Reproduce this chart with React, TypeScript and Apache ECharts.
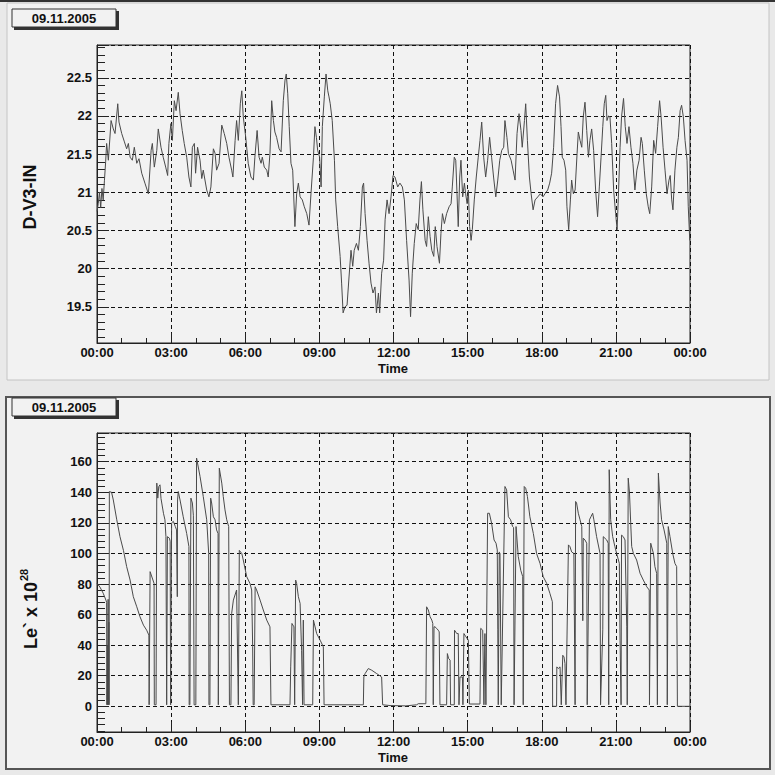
import React, { useEffect, useRef } from "react";
import * as echarts from "echarts";

const DATE_LABEL = "09.11.2005";
const TOP_Y_TITLE = "D-V3-IN";
const BOTTOM_Y_TITLE = "Le` x 10";
const BOTTOM_Y_EXP = "28";
const X_TITLE = "Time";

// D-V3-IN (temperature-like) series: hours since 00:00, value
const tempTime = [
  0.0, 0.05, 0.1, 0.15, 0.2, 0.25, 0.3, 0.35, 0.39, 0.46, 0.57, 0.66, 0.73, 0.84, 0.89, 1.0, 1.11, 1.2, 1.27, 1.34,
  1.43, 1.51, 1.61, 1.7, 1.81, 1.94, 2.08, 2.19, 2.24, 2.32, 2.42, 2.48, 2.59, 2.68, 2.78, 2.86, 2.91, 2.99, 3.05, 3.13,
  3.2, 3.29, 3.36, 3.45, 3.53, 3.63, 3.72, 3.8, 3.86, 3.94, 3.99, 4.07, 4.17, 4.24, 4.3, 4.44, 4.53, 4.61, 4.71, 4.78,
  4.84, 4.94, 5.05, 5.15, 5.25, 5.34, 5.45, 5.5, 5.59, 5.65, 5.72, 5.8, 5.86, 5.92, 6.02, 6.12, 6.23, 6.33, 6.39, 6.48,
  6.56, 6.64, 6.69, 6.77, 6.87, 6.93, 7.0, 7.07, 7.14, 7.2, 7.27, 7.37, 7.45, 7.54, 7.61, 7.66, 7.72, 7.78, 7.85, 7.92,
  8.01, 8.08, 8.15, 8.22, 8.31, 8.39, 8.49, 8.58, 8.66, 8.76, 8.82, 8.88, 8.93, 9.01, 9.07, 9.12, 9.2, 9.27, 9.34, 9.39,
  9.44, 9.52, 9.61, 9.66, 9.74, 9.84, 9.9, 9.96, 10.04, 10.12, 10.2, 10.28, 10.35, 10.41, 10.5, 10.58, 10.66, 10.74, 10.79, 10.85,
  10.93, 11.01, 11.09, 11.17, 11.25, 11.31, 11.39, 11.44, 11.52, 11.6, 11.66, 11.74, 11.82, 11.9, 11.98, 12.06, 12.17, 12.26, 12.36, 12.44,
  12.53, 12.63, 12.69, 12.76, 12.84, 12.92, 13.0, 13.07, 13.13, 13.19, 13.28, 13.34, 13.41, 13.48, 13.55, 13.63, 13.69, 13.76, 13.86, 13.92,
  13.98, 14.06, 14.15, 14.25, 14.33, 14.38, 14.46, 14.52, 14.57, 14.62, 14.68, 14.73, 14.8, 14.87, 14.92, 14.98, 15.03, 15.08, 15.14, 15.19,
  15.27, 15.35, 15.43, 15.5, 15.57, 15.65, 15.73, 15.81, 15.89, 15.97, 16.05, 16.14, 16.22, 16.3, 16.38, 16.46, 16.51, 16.59, 16.65, 16.76,
  16.84, 16.92, 17.0, 17.08, 17.16, 17.21, 17.3, 17.35, 17.42, 17.5, 17.57, 17.65, 17.73, 17.84, 17.94, 18.05, 18.13, 18.24, 18.32, 18.4,
  18.48, 18.56, 18.64, 18.72, 18.78, 18.83, 18.9, 18.97, 19.02, 19.09, 19.16, 19.21, 19.28, 19.35, 19.43, 19.48, 19.55, 19.62, 19.68, 19.75,
  19.82, 19.89, 19.95, 20.02, 20.1, 20.18, 20.26, 20.33, 20.4, 20.47, 20.53, 20.59, 20.64, 20.7, 20.76, 20.83, 20.91, 20.99, 21.05, 21.1,
  21.17, 21.23, 21.31, 21.38, 21.45, 21.53, 21.61, 21.69, 21.77, 21.85, 21.94, 22.02, 22.07, 22.15, 22.23, 22.31, 22.37, 22.45, 22.53, 22.61,
  22.69, 22.77, 22.83, 22.91, 22.99, 23.07, 23.15, 23.2, 23.26, 23.31, 23.39, 23.47, 23.53, 23.6, 23.66, 23.73, 23.8, 23.88, 23.93, 23.99,
];
const tempValue = [
  20.75, 20.85, 21.0, 20.8, 21.05, 20.9, 21.15, 21.4, 21.64, 21.42, 21.94, 21.83, 21.77, 22.16, 21.92, 21.77, 21.66, 21.57, 21.64, 21.46,
  21.42, 21.59, 21.38, 21.44, 21.25, 21.12, 20.98, 21.55, 21.64, 21.33, 21.55, 21.83, 21.59, 21.46, 21.33, 21.22, 21.64, 21.9, 21.68, 22.2,
  22.07, 22.31, 22.03, 21.81, 21.64, 21.46, 21.2, 21.07, 21.59, 21.64, 21.25, 21.59, 21.42, 21.18, 21.29, 21.03, 20.94, 21.07, 21.57, 21.51,
  21.29, 21.38, 21.88, 21.77, 21.64, 21.46, 21.29, 21.2, 21.68, 21.94, 21.68, 22.16, 22.33, 21.99, 21.72, 21.38, 21.2, 21.16, 21.46, 21.81,
  21.46, 21.38, 21.46, 21.33, 21.29, 21.2, 21.51, 22.2, 21.94, 21.79, 21.72, 21.57, 21.53, 22.2, 22.47, 22.55, 22.29, 21.86, 21.38, 21.29,
  20.55, 20.98, 21.12, 20.94, 20.9, 20.81, 20.72, 20.57, 20.98, 21.46, 21.86, 21.72, 21.55, 21.46, 21.07, 21.86, 22.25, 22.55, 22.33, 22.25,
  22.16, 21.94, 21.42, 20.9, 20.55, 20.16, 19.81, 19.42, 19.5, 19.52, 19.89, 20.24, 20.03, 20.24, 20.33, 20.24, 20.55, 21.07, 21.12, 20.72,
  20.37, 20.07, 19.81, 19.68, 19.76, 19.42, 19.68, 19.42, 19.94, 20.11, 20.64, 20.9, 20.72, 20.94, 21.22, 21.2, 21.07, 21.12, 21.07, 20.9,
  20.37, 19.85, 19.37, 19.94, 20.33, 20.59, 20.51, 20.9, 21.14, 20.77, 20.37, 20.29, 20.68, 20.42, 20.24, 20.16, 20.55, 20.29, 20.07, 20.46,
  20.72, 20.59, 20.72, 20.81, 20.85, 21.07, 21.46, 21.42, 20.98, 20.55, 21.2, 21.42, 20.94, 21.12, 20.98, 20.85, 21.03, 20.55, 20.37, 20.51,
  20.9, 21.2, 21.46, 21.68, 21.92, 21.46, 21.2, 21.42, 21.72, 21.46, 21.2, 20.94, 21.16, 21.42, 21.55, 21.59, 21.94, 21.72, 21.51, 21.42,
  21.29, 21.16, 21.77, 22.03, 21.81, 21.59, 21.94, 22.16, 21.68, 21.2, 20.98, 20.77, 20.9, 20.94, 20.98, 20.94, 20.98, 21.03, 21.12, 21.25,
  21.59, 22.16, 22.4, 22.25, 21.86, 21.46, 21.42, 21.29, 20.81, 20.51, 20.9, 21.16, 20.98, 21.03, 21.51, 21.79, 21.68, 21.59, 21.99, 22.18,
  21.81, 21.46, 21.68, 21.83, 21.55, 21.03, 20.68, 21.07, 21.46, 21.86, 22.16, 22.27, 21.94, 22.0, 21.99, 21.64, 21.03, 20.72, 20.51, 20.94,
  21.59, 21.99, 22.23, 21.86, 21.64, 21.86, 21.59, 21.38, 21.03, 21.29, 21.42, 21.72, 21.64, 21.29, 20.98, 20.81, 20.72, 21.07, 21.68, 21.51,
  21.86, 22.2, 21.99, 21.59, 21.29, 20.98, 21.16, 21.22, 20.9, 20.77, 21.29, 21.59, 21.72, 22.07, 22.14, 21.99, 21.68, 21.42, 20.81, 20.37,
];

// Le x 10^28 series: hours since 00:00, value
const lumTime = [
  0.0, 0.12, 0.25, 0.36, 0.39, 0.4, 0.42, 0.43, 0.45, 0.46, 0.48, 0.49, 0.5, 0.59, 0.66, 0.8, 0.93, 1.07, 1.2, 1.34,
  1.47, 1.61, 1.74, 1.88, 2.01, 2.1, 2.11, 2.13, 2.15, 2.31, 2.32, 2.39, 2.42, 2.46, 2.5, 2.55, 2.59, 2.69, 2.75, 2.79,
  2.82, 2.85, 2.93, 2.96, 2.98, 3.02, 3.09, 3.17, 3.22, 3.25, 3.26, 3.29, 3.36, 3.49, 3.63, 3.72, 3.73, 3.76, 3.8, 3.86,
  3.9, 3.93, 4.0, 4.03, 4.17, 4.3, 4.44, 4.52, 4.53, 4.57, 4.6, 4.64, 4.71, 4.78, 4.84, 4.9, 4.91, 4.95, 5.05, 5.11,
  5.18, 5.25, 5.33, 5.36, 5.42, 5.45, 5.52, 5.65, 5.72, 5.76, 5.86, 5.92, 6.06, 6.19, 6.26, 6.3, 6.32, 6.36, 6.4, 6.46,
  6.6, 6.73, 6.87, 7.0, 7.04, 7.81, 7.84, 7.89, 7.97, 8.0, 8.04, 8.08, 8.15, 8.22, 8.28, 8.32, 8.35, 8.38, 8.73, 8.76,
  8.89, 9.03, 9.16, 9.19, 10.78, 10.8, 10.85, 10.98, 11.12, 11.32, 11.52, 11.56, 11.86, 12.5, 12.94, 13.0, 13.31, 13.34, 13.41, 13.48,
  13.55, 13.59, 13.61, 13.64, 13.68, 13.75, 13.81, 13.85, 13.88, 14.15, 14.18, 14.23, 14.29, 14.31, 14.46, 14.47, 14.56, 14.62, 14.65, 14.69,
  14.79, 14.81, 14.85, 14.93, 15.03, 15.07, 15.5, 15.53, 15.61, 15.66, 15.7, 15.74, 15.81, 15.88, 15.97, 16.07, 16.15, 16.2, 16.22, 16.24,
  16.28, 16.31, 16.36, 16.51, 16.58, 16.65, 16.74, 16.82, 16.86, 16.88, 16.96, 17.05, 17.15, 17.23, 17.25, 17.29, 17.35, 17.42, 17.52, 17.66,
  17.79, 17.93, 18.06, 18.2, 18.33, 18.43, 18.44, 18.6, 18.61, 18.67, 18.74, 18.79, 18.85, 18.9, 18.94, 18.98, 19.08, 19.14, 19.21, 19.3,
  19.35, 19.37, 19.41, 19.48, 19.55, 19.62, 19.66, 19.68, 19.75, 19.82, 19.84, 19.93, 19.99, 20.06, 20.11, 20.22, 20.36, 20.38, 20.47, 20.49,
  20.63, 20.69, 20.71, 20.73, 20.79, 20.87, 20.96, 21.03, 21.14, 21.17, 21.21, 21.23, 21.3, 21.37, 21.44, 21.46, 21.5, 21.55, 21.6, 21.64,
  21.71, 21.84, 21.98, 22.11, 22.25, 22.35, 22.36, 22.41, 22.52, 22.58, 22.65, 22.68, 22.72, 22.79, 22.85, 22.95, 23.06, 23.08, 23.12, 23.19,
  23.3, 23.39, 23.46, 23.49, 24.0,
];
const lumValue = [
  80.4, 78, 74, 69.5, 68, 1, 40, 1, 70, 1, 55, 1, 140.5, 140, 135, 122, 111, 102, 91.4, 82.6,
  71.7, 65.1, 58.6, 53.1, 49.8, 46.6, 1, 1, 88.1, 80.4, 1, 1, 146, 136.2, 143.8, 144.9, 136, 126.3, 122, 111,
  1, 111, 110, 108, 1, 120, 121, 117.6, 115.4, 71.7, 135, 140.5, 135, 124, 113, 104.5, 1, 1, 136.2, 133,
  125, 1, 1, 162.4, 150.4, 137.3, 122, 100, 1, 1, 136.2, 133, 124, 122, 115.4, 113, 1, 155.8, 146, 137.3,
  128.5, 122, 117.6, 1, 1, 60.8, 69.5, 76.1, 1, 102, 100, 95.7, 84.8, 80.4, 76.1, 39, 1, 1, 78.2, 76.1,
  69.5, 63, 56.4, 52, 1, 1, 25.8, 54.2, 52, 1, 82.6, 80.4, 71.7, 67.3, 36.7, 1, 56.4, 1, 1, 56.4,
  47.6, 43.3, 38.9, 1, 1, 19.2, 21.4, 24.7, 23.6, 21.4, 19.2, 1, 0.5, 0.3, 1, 1.7, 1.7, 65.1, 63, 58.6,
  56.4, 54.2, 1, 52, 52, 50.9, 49.8, 48.7, 1, 1, 34.5, 31.3, 30.2, 1, 1, 49.8, 47.6, 47.6, 1, 19.2,
  19.2, 1, 47.6, 45.5, 43.3, 1.5, 1.5, 51, 49.8, 1, 47.6, 1, 126.3, 126.3, 119.8, 108.8, 106.7, 102.3, 50, 1,
  101, 100, 1, 143.8, 141.6, 124, 122, 117.6, 117, 1, 117.6, 98, 89, 84.8, 1, 143.8, 142.7, 137.3, 124, 113,
  100, 93.5, 84.8, 80.4, 73.9, 68.4, 0, 0, 25.8, 24.7, 25.8, 1, 33.4, 32.3, 28, 1, 105.6, 104.5, 101, 100,
  1, 134, 133, 126.3, 122, 117.6, 56, 110, 108.8, 106.7, 1, 122, 124, 126.3, 122, 111, 100, 1, 50, 111,
  108.8, 106.7, 1, 154.8, 122, 111, 104.5, 100, 93.5, 43.3, 1, 112, 111, 108.8, 52, 1, 149.3, 140, 120, 104.5,
  100, 95.7, 87, 82.6, 78.2, 76.1, 1, 106.7, 100, 91.4, 87, 1, 152.6, 133, 122, 115.4, 106.7, 1, 117.6, 111,
  100, 93.5, 91.4, 0, 0,
];

const FONT = "'Liberation Sans', Arial, Helvetica, sans-serif";
const INK = "#111111";
const LINE = "#4a4a4a";
const PANEL = "#f2f2f2";

function hourLabel(v: number): string {
  const h = Math.round(v) % 24;
  return (h < 10 ? "0" + h : String(h)) + ":00";
}

function stepLabel(step: number) {
  return (v: number) => {
    const r = Math.round(v / step) * step;
    if (Math.abs(v - r) > 1e-6) return "";
    return String(Math.round(r * 10) / 10);
  };
}

function makeX(gridIndex: number) {
  return {
    type: "value",
    gridIndex,
    min: 0,
    max: 24,
    interval: 3,
    axisLine: { show: true, onZero: false, lineStyle: { color: "#222", width: 1 } },
    axisTick: { show: true, inside: true, length: 10, lineStyle: { color: "#222" } },
    minorTick: { show: true, splitNumber: 3, length: 5, lineStyle: { color: "#222" } },
    axisLabel: {
      formatter: hourLabel,
      fontFamily: FONT,
      fontWeight: "bold",
      fontSize: 13,
      lineHeight: 13,
      color: INK,
      margin: 3,
    },
    splitLine: { show: true, lineStyle: { color: "#111", type: [4, 3], width: 1 } },
  };
}

function makeY(gridIndex: number, min: number, max: number, step: number, splitNumber: number) {
  return {
    type: "value",
    gridIndex,
    min,
    max,
    splitNumber,
    minInterval: step,
    maxInterval: step,
    axisLine: { show: true, lineStyle: { color: "#222", width: 1 } },
    axisTick: { show: true, inside: true, length: 12, lineStyle: { color: "#222" } },
    minorTick: { show: true, splitNumber: 5, length: 8, lineStyle: { color: "#222" } },
    axisLabel: {
      formatter: stepLabel(step),
      fontFamily: FONT,
      fontWeight: "bold",
      fontSize: 13,
      color: INK,
      margin: 5,
    },
    splitLine: { show: true, lineStyle: { color: "#111", type: [4, 3], width: 1 } },
  };
}

function dateBox(y: number) {
  return [
    { type: "rect", z: 5, shape: { x: 14, y: y + 2, width: 105, height: 19 }, style: { fill: "#333" } },
    { type: "rect", z: 6, shape: { x: 12, y, width: 104, height: 18 }, style: { fill: PANEL, stroke: "#333", lineWidth: 1 } },
    {
      type: "text", z: 7, x: 64, y: y + 9,
      style: { text: DATE_LABEL, font: `bold 13px ${FONT}`, fill: INK, textAlign: "center", textVerticalAlign: "middle" },
    },
  ];
}

export default function App() {
  const ref = useRef<HTMLDivElement>(null);
  useEffect(() => {
    if (!ref.current) return;
    const chart = echarts.init(ref.current, null, { renderer: "svg" });
    const tempData = tempTime.map((t, i) => [t, tempValue[i]]);
    const lumData = lumTime.map((t, i) => [t, lumValue[i]]);
    chart.setOption({
      animation: false,
      backgroundColor: "#e9e9e9",
      grid: [
        { left: 97, top: 45, width: 593, height: 298, show: true, borderColor: "#222", borderWidth: 1, backgroundColor: "transparent" },
        { left: 97, top: 433, width: 593, height: 299, show: true, borderColor: "#222", borderWidth: 1, backgroundColor: "transparent" },
      ],
      xAxis: [makeX(0), makeX(1)],
      yAxis: [makeY(0, 19.025, 22.93, 0.5, 8), makeY(1, -16.8, 178.8, 20, 10)],
      series: [
        {
          type: "line", xAxisIndex: 0, yAxisIndex: 0, data: tempData, showSymbol: false, symbol: "none",
          lineStyle: { color: LINE, width: 1 }, z: 3,
        },
        {
          type: "line", xAxisIndex: 1, yAxisIndex: 1, data: lumData, showSymbol: false, symbol: "none",
          lineStyle: { color: LINE, width: 1 }, z: 3,
        },
      ],
      graphic: [
        { type: "rect", z: -10, shape: { x: 0, y: 0, width: 775, height: 2 }, style: { fill: "#333" } },
        { type: "rect", z: -10, shape: { x: 7, y: 3, width: 762, height: 377 }, style: { fill: PANEL, stroke: "#c4c4c4", lineWidth: 1 } },
        { type: "rect", z: -10, shape: { x: 6, y: 397, width: 764, height: 372 }, style: { fill: PANEL, stroke: "#555", lineWidth: 2 } },
        ...dateBox(9),
        ...dateBox(398),
        {
          type: "text", z: 7, x: 30, y: 197, rotation: Math.PI / 2,
          style: { text: TOP_Y_TITLE, font: `bold 18px ${FONT}`, fill: INK, textAlign: "center", textVerticalAlign: "middle" },
        },
        {
          type: "text", z: 7, x: 31, y: 649, rotation: Math.PI / 2,
          style: { text: BOTTOM_Y_TITLE, font: `bold 18px ${FONT}`, fill: INK, textAlign: "left", textVerticalAlign: "middle" },
        },
        {
          type: "text", z: 7, x: 24, y: 581, rotation: Math.PI / 2,
          style: { text: BOTTOM_Y_EXP, font: `bold 11px ${FONT}`, fill: INK, textAlign: "left", textVerticalAlign: "middle" },
        },
        {
          type: "text", z: 7, x: 393, y: 368,
          style: { text: X_TITLE, font: `bold 13px ${FONT}`, fill: INK, textAlign: "center", textVerticalAlign: "middle" },
        },
        {
          type: "text", z: 7, x: 393, y: 757,
          style: { text: X_TITLE, font: `bold 13px ${FONT}`, fill: INK, textAlign: "center", textVerticalAlign: "middle" },
        },
      ],
    });
    return () => chart.dispose();
  }, []);
  return <div ref={ref} style={{ position: "fixed", left: 0, top: 0, width: 775, height: 775 }} />;
}
